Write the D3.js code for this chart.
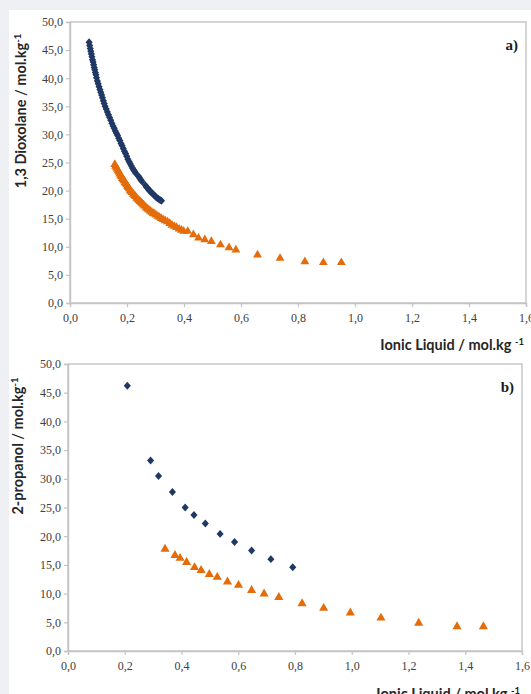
<!DOCTYPE html>
<html><head><meta charset="utf-8">
<script src="https://cdn.jsdelivr.net/npm/d3@7"></script>
<style>
html,body{margin:0;padding:0;background:#eef0f3;}
svg{display:block;}
.tk text{font-family:'Liberation Serif','DejaVu Serif',serif !important;font-size:12px;}
</style></head>
<body><svg id="c" width="531" height="694"></svg>
<script>
// ---- data ----
const xTicks = [0,0.2,0.4,0.6,0.8,1.0,1.2,1.4,1.6];
const yTicks = [0,5,10,15,20,25,30,35,40,45,50];

// panel a) 1,3 Dioxolane
const aBlueX = [0.067,0.069,0.071,0.073,0.075,0.077,0.079,0.081,0.083,0.085,0.087,0.089,0.091,0.093,0.096,0.099,0.102,0.105,0.108,0.111,0.114,0.117,0.120,0.123,0.127,0.131,0.135,0.139,0.143,0.147,0.151,0.155,0.159,0.163,0.167,0.171,0.175,0.179,0.183,0.187,0.191,0.195,0.199,0.203,0.207,0.211,0.215,0.219,0.223,0.227,0.231,0.241,0.245,0.249,0.253,0.265,0.269,0.273,0.277,0.281,0.285,0.289,0.293,0.297,0.301,0.305,0.309,0.313,0.317,0.321];
const aBlueY = [46.4,45.8,45.3,44.8,44.3,43.8,43.3,42.9,42.4,41.9,41.5,41.0,40.6,40.1,39.5,39.0,38.5,38.0,37.5,37.0,36.5,36.0,35.5,35.0,34.5,34.0,33.5,33.0,32.5,32.0,31.5,31.1,30.6,30.2,29.8,29.3,28.9,28.4,28.0,27.5,27.0,26.6,26.1,25.6,25.2,24.8,24.4,24.0,23.7,23.4,23.1,22.5,22.2,21.9,21.6,20.9,20.6,20.4,20.1,19.9,19.7,19.5,19.3,19.1,18.9,18.7,18.6,18.4,18.3,18.2];
const aOrangeX = [0.157,0.160,0.163,0.166,0.169,0.172,0.175,0.178,0.181,0.184,0.187,0.190,0.193,0.196,0.199,0.202,0.205,0.208,0.211,0.214,0.218,0.222,0.226,0.230,0.234,0.238,0.242,0.246,0.250,0.254,0.258,0.262,0.267,0.272,0.277,0.282,0.287,0.292,0.297,0.302,0.308,0.314,0.320,0.327,0.334,0.342,0.350,0.358,0.366,0.374,0.383,0.391,0.399,0.413,0.433,0.451,0.473,0.496,0.528,0.558,0.582,0.658,0.737,0.824,0.889,0.952];
const aOrangeY = [24.8,24.5,24.2,24.0,23.7,23.4,23.1,22.8,22.6,22.3,22.1,21.9,21.6,21.4,21.2,20.9,20.7,20.5,20.2,20.0,19.8,19.5,19.3,19.1,18.8,18.6,18.4,18.2,18.0,17.8,17.6,17.4,17.1,16.9,16.7,16.5,16.3,16.1,16.0,15.8,15.6,15.4,15.2,15.0,14.8,14.6,14.3,14.0,13.8,13.6,13.3,13.1,12.9,12.9,12.3,11.7,11.4,11.1,10.5,10.0,9.6,8.7,8.1,7.5,7.35,7.35];

// panel b) 2-propanol
const bBlueX = [0.209,0.291,0.319,0.368,0.413,0.444,0.484,0.536,0.587,0.647,0.715,0.792];
const bBlueY = [46.2,33.2,30.5,27.7,25.0,23.7,22.2,20.4,19.0,17.5,16.0,14.6];
const bOrangeX = [0.342,0.377,0.395,0.418,0.446,0.469,0.498,0.526,0.562,0.601,0.647,0.691,0.743,0.825,0.901,0.995,1.103,1.236,1.371,1.464];
const bOrangeY = [17.9,16.8,16.3,15.6,14.7,14.2,13.5,13.0,12.2,11.6,10.7,10.1,9.5,8.4,7.6,6.8,5.9,5.0,4.4,4.4];

const zip = (xs, ys) => xs.map((x,i)=>({x, y: ys[i]}));

const navy = "#1f3864", orange = "#e46c0a";
const fmt = v => d3.format(".1f")(v).replace(".", ",");
const serif = "'Liberation Serif','DejaVu Serif',serif";

const svg = d3.select("#c");
svg.append("rect").attr("x",9).attr("y",10).attr("width",522).attr("height",684).attr("fill","#ffffff");

const diamondType = {
  draw(ctx, size){ const r = Math.sqrt(size)/1.6; ctx.moveTo(0,-r); ctx.lineTo(r*0.9,0); ctx.lineTo(0,r); ctx.lineTo(-r*0.9,0); ctx.closePath(); }
};

function panel(cfg){
  const x = d3.scaleLinear().domain([0,1.6]).range([cfg.left, cfg.right]);
  const y = d3.scaleLinear().domain([0,50]).range([cfg.bottom, cfg.top]);
  const g = svg.append("g");

  g.append("rect").attr("x",cfg.left).attr("y",cfg.top)
    .attr("width",cfg.right-cfg.left).attr("height",cfg.bottom-cfg.top)
    .attr("fill","none").attr("stroke","#c4c4c4").attr("stroke-width",1.4);

  const xa = g.append("g").attr("class","tk").attr("transform",`translate(0,${cfg.bottom})`)
    .call(d3.axisBottom(x).tickValues(xTicks).tickFormat(fmt).tickSize(4).tickPadding(6));
  const ya = g.append("g").attr("class","tk").attr("transform",`translate(${cfg.left},0)`)
    .call(d3.axisLeft(y).tickValues(yTicks).tickFormat(fmt).tickSize(4).tickPadding(3));
  [xa,ya].forEach(a=>{
    a.attr("font-family", serif).attr("font-size", 12);
    a.select(".domain").attr("stroke","#c4c4c4").attr("stroke-width",1.4);
    a.selectAll(".tick line").attr("stroke","#c4c4c4").attr("stroke-width",1.2);
    a.selectAll(".tick text").attr("fill","#404040").attr("font-family", serif);
  });

  g.append("g").selectAll("path").data(zip(cfg.ox, cfg.oy)).join("path")
    .attr("transform",d=>`translate(${x(d.x)},${y(d.y)+0.8})`)
    .attr("d", d3.symbol().type(d3.symbolTriangle).size(cfg.triSize))
    .attr("fill",orange);
  g.append("g").selectAll("path").data(zip(cfg.bx, cfg.by)).join("path")
    .attr("transform",d=>`translate(${x(d.x)},${y(d.y)})`)
    .attr("d", d3.symbol().type(diamondType).size(cfg.diaSize))
    .attr("fill",navy);

  // y title
  const yt = g.append("text")
    .attr("transform",`translate(${cfg.ytX},${cfg.ytY}) rotate(-90)`)
    .attr("text-anchor","middle")
    .style("font-family","Lato, 'Open Sans', sans-serif").style("font-weight","bold").style("font-size","14.5px")
    .attr("fill","#262626");
  yt.append("tspan").text(cfg.ytitle + " / mol.kg");
  yt.append("tspan").attr("dy",-5).style("font-size","9.5px").text("-1");

  const xt = g.append("text")
    .attr("x",cfg.xtX).attr("y",cfg.xtY).attr("text-anchor","end")
    .style("font-family","Lato, 'Open Sans', sans-serif").style("font-weight","bold").style("font-size","14.5px")
    .attr("fill","#262626");
  xt.append("tspan").text("Ionic Liquid / mol.kg ");
  xt.append("tspan").attr("dy",-5).style("font-size","9.5px").text("-1");

  g.append("text").attr("x",cfg.right-8).attr("y",cfg.top+28).attr("text-anchor","end")
    .style("font-family",serif).style("font-weight","bold").style("font-size","15px")
    .attr("fill","#1a1a1a").text(cfg.label);
}

panel({left:70, right:526, top:22, bottom:303,
  bx:aBlueX, by:aBlueY, ox:aOrangeX, oy:aOrangeY,
  ytitle:"1,3 Dioxolane", ytX:26, ytY:111, xtX:524, xtY:350, label:"a)", triSize:34, diaSize:40});
panel({left:68, right:522, top:364, bottom:651,
  bx:bBlueX, by:bBlueY, ox:bOrangeX, oy:bOrangeY,
  ytitle:"2-propanol", ytX:23, ytY:446, xtX:520, xtY:699, label:"b)", triSize:36, diaSize:40});
</script></body></html>
